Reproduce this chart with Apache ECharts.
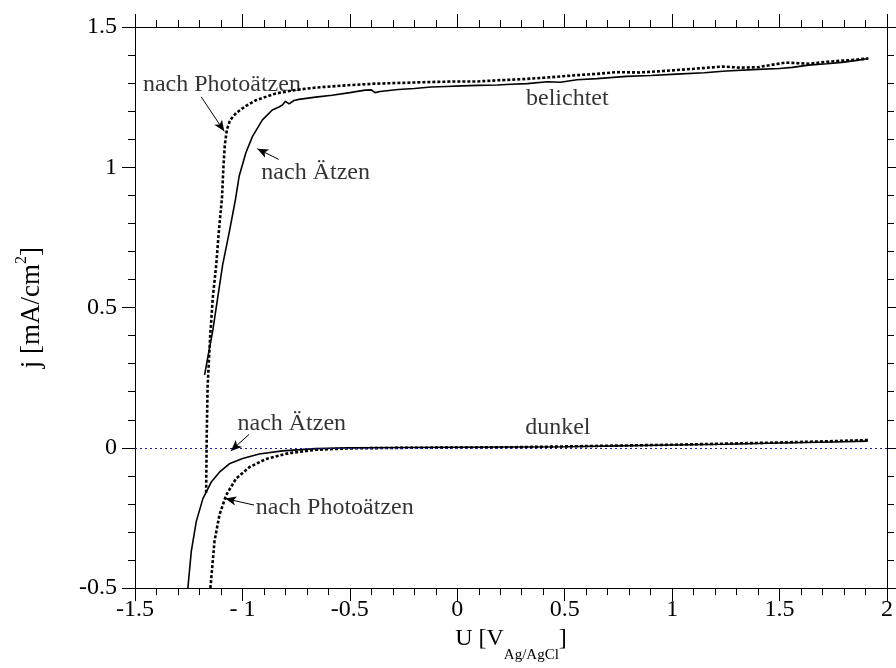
<!DOCTYPE html>
<html>
<head>
<meta charset="utf-8">
<script src="https://cdn.jsdelivr.net/npm/echarts@6/dist/echarts.min.js"></script>
<style>html,body{margin:0;padding:0;background:#fff}#c{width:896px;height:668px}</style>
</head>
<body>
<div id="c"></div>
<script>
// ---- data (U in V vs Ag/AgCl, j in mA/cm^2) ----
const lightSolidU = [-1.176,-1.157,-1.138,-1.115,-1.092,-1.061,-1.032,-1.015,-0.984,-0.953,-0.907,-0.861,-0.83,-0.814,-0.80,-0.783,-0.76,-0.737,-0.66,-0.583,-0.5,-0.429,-0.40,-0.383,-0.36,-0.275,-0.2,-0.122,-0.05,0.02,0.095,0.187,0.25,0.326,0.419,0.48,0.557,0.65,0.788,0.9,1.02,1.15,1.251,1.40,1.50,1.559,1.635,1.72,1.79,1.86,1.913];
const lightSolidJ = [0.26,0.34,0.418,0.535,0.652,0.77,0.887,0.969,1.052,1.11,1.169,1.204,1.215,1.222,1.235,1.226,1.238,1.242,1.25,1.257,1.266,1.275,1.276,1.266,1.27,1.277,1.281,1.286,1.288,1.29,1.292,1.293,1.296,1.298,1.305,1.303,1.312,1.316,1.324,1.327,1.332,1.337,1.343,1.349,1.352,1.356,1.364,1.369,1.374,1.381,1.388];
const lightDotU = [-1.169,-1.166,-1.162,-1.15,-1.138,-1.122,-1.11,-1.095,-1.0885,-1.082,-1.072,-1.058,-1.03,-0.985,-0.937,-0.845,-0.75,-0.66,-0.52,-0.383,-0.25,-0.122,0.0,0.095,0.187,0.3,0.403,0.55,0.65,0.742,0.85,0.958,1.1,1.236,1.32,1.403,1.47,1.528,1.635,1.72,1.79,1.85,1.913];
const lightDotJ = [-0.16,0.05,0.22,0.40,0.535,0.652,0.77,0.893,1.0,1.08,1.135,1.167,1.193,1.218,1.239,1.263,1.276,1.284,1.292,1.298,1.301,1.304,1.306,1.306,1.31,1.314,1.319,1.328,1.333,1.339,1.338,1.343,1.351,1.359,1.355,1.357,1.366,1.373,1.369,1.376,1.38,1.383,1.388];
const darkSolidU = [-1.254,-1.238,-1.215,-1.184,-1.145,-1.107,-1.061,-0.999,-0.922,-0.814,-0.66,-0.5,-0.25,0,0.25,0.5,0.75,1.0,1.25,1.5,1.75,1.91];
const darkSolidJ = [-0.5,-0.369,-0.263,-0.181,-0.122,-0.087,-0.057,-0.038,-0.022,-0.011,-0.003,0.0,0.001,0.002,0.003,0.004,0.007,0.010,0.013,0.017,0.021,0.024];
const darkDotU = [-1.149,-1.13,-1.107,-1.076,-1.03,-0.968,-0.891,-0.783,-0.66,-0.506,-0.25,0,0.25,0.5,0.75,1.0,1.25,1.5,1.75,1.92];
const darkDotJ = [-0.5,-0.333,-0.239,-0.169,-0.11,-0.069,-0.04,-0.019,-0.007,-0.002,0.0,0.001,0.002,0.005,0.008,0.011,0.015,0.019,0.024,0.028];
const xTicks = [-1.5,-1,-0.5,0,0.5,1,1.5,2];
const yTicks = [-0.5,0,0.5,1,1.5];

// annotation texts and arrows (data coordinates)
const labelTexts = ['nach Photoätzen','nach Ätzen','belichtet','dunkel','nach Ätzen','nach Photoätzen'];
const labelU = [-1.463,-0.912,0.320,0.316,-1.023,-0.938];
const labelJ = [1.296,0.982,1.246,0.070,0.085,-0.215];
const arrowFromU = [-1.192,-0.8306,-0.969,-0.946];
const arrowFromJ = [1.251,1.028,0.048,-0.204];
const arrowToU = [-1.0845,-0.931,-1.054,-1.080];
const arrowToJ = [1.128,1.066,-0.011,-0.181];

const FONT = '"Liberation Serif", "Times New Roman", serif';
const zip = (a,b) => a.map((v,i)=>[v,b[i]]);

const chart = echarts.init(document.getElementById('c'), null, {renderer:'canvas'});
const axisCommon = {
  type:'value', axisLine:{show:true, onZero:false, lineStyle:{color:'#000', width:1}},
  axisTick:{show:true, inside:false, length:13, lineStyle:{color:'#000'}},
  minorTick:{show:true, splitNumber:5, length:7, lineStyle:{color:'#000'}},
  splitLine:{show:false}, minorSplitLine:{show:false}
};
const fmt = v => {
  if (Math.abs(v+1) < 1e-9) return '- 1';
  return String(Math.round(v*10)/10);
};

chart.setOption({
  animation:false,
  backgroundColor:'#fff',
  grid:{left:135, right:3, top:27, bottom:60},
  xAxis:[
    Object.assign({}, axisCommon, {
      position:'bottom', min:xTicks[0], max:xTicks[xTicks.length-1], interval:0.5,
      axisLabel:{show:true, margin:10, color:'#000', fontFamily:FONT, fontSize:24, formatter:fmt},
      name:'{a|U [V}{s|Ag/AgCl}{a|]}', nameLocation:'middle', nameGap:18,
      nameTextStyle:{rich:{
        a:{fontFamily:FONT, fontSize:24, color:'#000', lineHeight:26, verticalAlign:'top'},
        s:{fontFamily:FONT, fontSize:15, color:'#000', lineHeight:16, padding:[21,0,0,0], verticalAlign:'top'}
      }}
    }),
    Object.assign({}, axisCommon, {
      position:'top', min:xTicks[0], max:xTicks[xTicks.length-1], interval:0.5,
      axisLabel:{show:false}
    })
  ],
  yAxis:[
    Object.assign({}, axisCommon, {
      position:'left', min:yTicks[0], max:yTicks[yTicks.length-1], interval:0.5,
      axisLabel:{show:true, margin:18, color:'#000', fontFamily:FONT, fontSize:24, formatter:fmt},
      name:'{a|j [mA/cm}{s|2}{a|]}', nameLocation:'middle', nameGap:90, nameRotate:90,
      nameTextStyle:{rich:{
        a:{fontFamily:FONT, fontSize:27, color:'#000', lineHeight:32, verticalAlign:'bottom'},
        s:{fontFamily:FONT, fontSize:16, color:'#000', lineHeight:17, padding:[0,0,15,0], verticalAlign:'bottom'}
      }}
    }),
    Object.assign({}, axisCommon, {
      position:'right', min:yTicks[0], max:yTicks[yTicks.length-1], interval:0.5,
      axisLabel:{show:false}
    })
  ],
  series:[
    {type:'line', name:'belichtet nach Ätzen', data:zip(lightSolidU, lightSolidJ), showSymbol:false, smooth:false,
     lineStyle:{color:'#000', width:1.6}, z:3,
     markLine:{silent:true, symbol:['none','none'], label:{show:false},
       lineStyle:{color:'#1a1aa0', type:[2,3], width:1}, data:[{yAxis:0}]}},
    {type:'line', name:'belichtet nach Photoätzen', data:zip(lightDotU, lightDotJ), showSymbol:false,
     lineStyle:{color:'#000', width:2.6, type:[3,2]}, z:3},
    {type:'line', name:'dunkel nach Ätzen', data:zip(darkSolidU, darkSolidJ), showSymbol:false,
     lineStyle:{color:'#000', width:1.6}, z:3},
    {type:'line', name:'dunkel nach Photoätzen', data:zip(darkDotU, darkDotJ), showSymbol:false,
     lineStyle:{color:'#000', width:2.6, type:[3,2]}, z:3},
    {type:'scatter', name:'labels', symbolSize:0, silent:true, z:5,
     data:labelTexts.map((t,i)=>({value:[labelU[i], labelJ[i]], label:{formatter:t}})),
     label:{show:true, position:'right', distance:0, color:'#000', fontFamily:FONT, fontSize:24, align:'left', verticalAlign:'middle'},
     markLine:{silent:true, symbol:['none','arrow'], symbolSize:[7,11], label:{show:false},
       lineStyle:{color:'#000', type:'solid', width:1},
       data:arrowFromU.map((u,i)=>[{coord:[u, arrowFromJ[i]]},{coord:[arrowToU[i], arrowToJ[i]]}])}
    }
  ]
});
</script>
</body>
</html>
